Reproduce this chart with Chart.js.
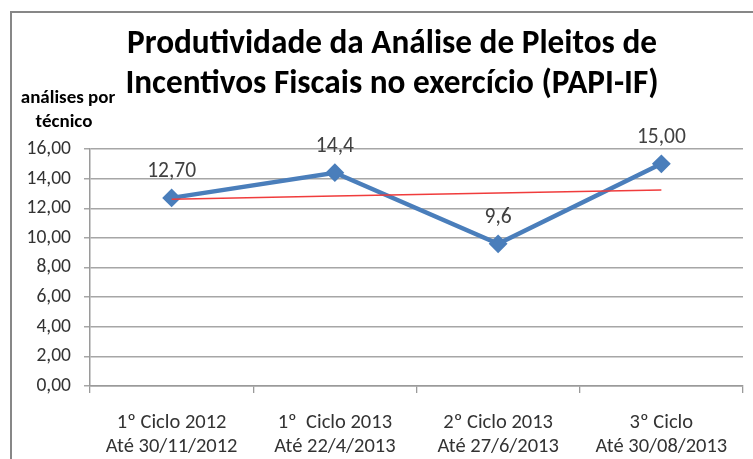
<!DOCTYPE html>
<html>
<head>
<meta charset="utf-8">
<script src="https://cdn.jsdelivr.net/npm/chart.js@4/dist/chart.umd.min.js"></script>
<style>
  html, body { margin: 0; padding: 0; background: #fff; }
  #wrap { width: 753px; height: 459px; position: relative; }
</style>
</head>
<body>
<div id="wrap"><canvas id="c" width="753" height="459"></canvas></div>
<script>
const categories = [
  ['1º Ciclo 2012', 'Até 30/11/2012'],
  ['1º  Ciclo 2013', 'Até 22/4/2013'],
  ['2º Ciclo 2013', 'Até 27/6/2013'],
  ['3º Ciclo', 'Até 30/08/2013']
];
const productivity = [12.70, 14.4, 9.6, 15.00];
const productivityLabels = ['12,70', '14,4', '9,6', '15,00'];
const trendValues = [12.61, 12.82, 13.03, 13.24];
const yTickValues = [0, 2, 4, 6, 8, 10, 12, 14, 16];
const yTickLabels = ['0,00', '2,00', '4,00', '6,00', '8,00', '10,00', '12,00', '14,00', '16,00'];
const titleLines = ['Produtividade da Análise de Pleitos de', 'Incentivos Fiscais no exercício (PAPI-IF)'];
const yTitleLines = ['análises por', 'técnico'];

const FONT = 'Carlito, Lato, sans-serif';

const decorPlugin = {
  id: 'decor',
  beforeDraw(chart) {
    const ctx = chart.ctx;
    ctx.save();
    ctx.strokeStyle = '#878787';
    ctx.lineWidth = 2;
    ctx.beginPath();
    ctx.moveTo(11, 459);
    ctx.lineTo(11, 12);
    ctx.lineTo(753, 12);
    ctx.stroke();
    ctx.restore();
  },
  afterDraw(chart) {
    const ctx = chart.ctx;
    ctx.save();
    // Title
    ctx.fillStyle = '#000';
    ctx.textAlign = 'center';
    ctx.textBaseline = 'alphabetic';
    let size = 30;
    ctx.font = 'bold ' + size + 'px ' + FONT;
    const w = ctx.measureText(titleLines[0]).width;
    size = size * 530 / w;
    ctx.font = 'bold ' + size.toFixed(2) + 'px ' + FONT;
    ctx.fillText(titleLines[0], 392, 53);
    ctx.fillText(titleLines[1], 392, 93);
    // Y axis title
    ctx.font = 'bold 19px ' + FONT;
    ctx.textBaseline = 'middle';
    ctx.fillText(yTitleLines[0], 68, 98);
    ctx.fillText(yTitleLines[1], 64, 122);
    // Data labels
    const meta = chart.getDatasetMeta(1);
    ctx.font = '21.5px ' + FONT;
    ctx.fillStyle = '#404040';
    meta.data.forEach((pt, i) => {
      ctx.fillText(productivityLabels[i], pt.x, pt.y - 26);
    });
    ctx.restore();
  }
};

new Chart(document.getElementById('c'), {
  type: 'line',
  data: {
    labels: categories,
    datasets: [
      {
        label: 'Tendência',
        data: trendValues,
        borderColor: '#f03c3c',
        borderWidth: 1.5,
        pointRadius: 0,
        fill: false,
        tension: 0,
        order: 0
      },
      {
        label: 'Produtividade',
        data: productivity,
        borderColor: '#4a7ebb',
        backgroundColor: '#4a7ebb',
        borderWidth: 4.5,
        pointStyle: 'rectRot',
        pointRadius: 8,
        pointBorderWidth: 2,
        pointBackgroundColor: '#4a7ebb',
        pointBorderColor: '#4a7ebb',
        fill: false,
        tension: 0,
        order: 1
      }
    ]
  },
  options: {
    responsive: false,
    animation: false,
    events: [],
    layout: { padding: { top: 149, right: 10, bottom: 0, left: 0 } },
    plugins: { legend: { display: false }, tooltip: { enabled: false }, title: { display: false } },
    scales: {
      x: {
        offset: true,
        grid: { display: true, drawOnChartArea: false, drawTicks: true, tickLength: 7, color: '#9a9a9a', lineWidth: 1.3, offset: true },
        border: { display: true, color: '#9a9a9a', width: 1.5 },
        ticks: { color: '#333', font: { family: FONT, size: 20.5, lineHeight: '24px' }, padding: 18, maxRotation: 0, autoSkip: false },
        afterFit(scale) { scale.height = 73; }
      },
      y: {
        min: 0,
        max: 16,
        afterBuildTicks(scale) { scale.ticks = yTickValues.map(v => ({ value: v })); },
        grid: { color: '#a6a6a6', lineWidth: 1.5, drawTicks: true, tickLength: 6 },
        border: { display: true, color: '#9a9a9a', width: 1.5 },
        ticks: {
          color: '#333',
          font: { family: FONT, size: 19.5 },
          padding: 13,
          callback(value) { const i = yTickValues.indexOf(value); return i >= 0 ? yTickLabels[i] : ''; }
        },
        afterFit(scale) { scale.width = 90; }
      }
    }
  },
  plugins: [decorPlugin]
});
</script>
</body>
</html>
